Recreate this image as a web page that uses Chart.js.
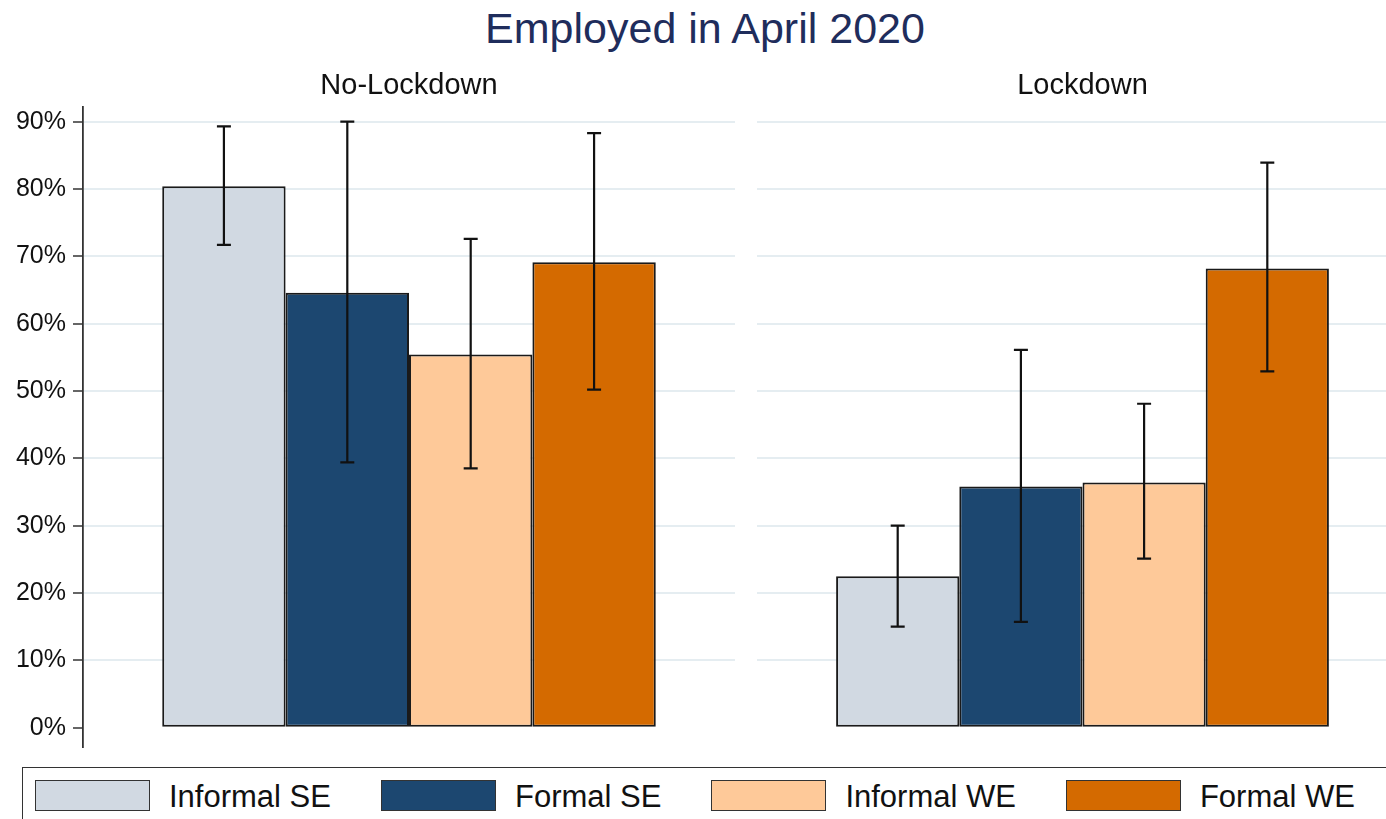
<!DOCTYPE html>
<html>
<head>
<meta charset="utf-8">
<title>Employed in April 2020</title>
<script src="https://cdn.jsdelivr.net/npm/chart.js@4.4.1/dist/chart.umd.min.js"></script>
<style>
  html, body { margin: 0; padding: 0; background: #fff; }
  body { width: 1386px; height: 819px; position: relative; overflow: hidden;
         font-family: 'Liberation Sans', Arial, sans-serif; }
  #title { position: absolute; left: 0; top: 7px; width: 1410px; text-align: center;
           font-size: 43px; line-height: 42px; color: #1f2d5c; }
  #leftPanel { position: absolute; left: 0; top: 50px; }
  #rightPanel { position: absolute; left: 746px; top: 50px; }
  #legend { position: absolute; left: 22px; top: 767px; width: 1400px; height: 70px;
            border: 1.5px solid #333; box-sizing: border-box;
            display: flex; align-items: center; gap: 50px; padding: 0 0 14px 12px; }
  .item { display: flex; align-items: center; gap: 19px; font-size: 31px; color: #111; }
  .item span { position: relative; top: 2px; }
  .swatch { width: 115px; height: 31px; box-sizing: border-box; border: 1.5px solid #333; }
</style>
</head>
<body>
<div id="title">Employed in April 2020</div>
<canvas id="leftPanel" width="746" height="700"></canvas>
<canvas id="rightPanel" width="662" height="700"></canvas>
<div id="legend"></div>

<script>
// Panels and series
const panels = ['No-Lockdown', 'Lockdown'];
const seriesNames = ['Informal SE', 'Formal SE', 'Informal WE', 'Formal WE'];
const seriesColors = ['#d1d9e2', '#1c4770', '#fec999', '#d46a00'];

// Share employed (%) with 95% CI, one entry per series
const noLockdownShare = [80.4, 64.6, 55.4, 69.1];
const noLockdownLow = [71.7, 39.4, 38.5, 50.2];
const noLockdownHigh = [89.3, 90.0, 72.6, 88.3];

const lockdownShare = [22.5, 35.8, 36.4, 68.2];
const lockdownLow = [15.0, 15.7, 25.1, 52.9];
const lockdownHigh = [30.0, 56.1, 48.1, 83.9];

// Y axis tick values
const yTicks = [0, 10, 20, 30, 40, 50, 60, 70, 80, 90];

const FONT = "'Liberation Sans', Arial, sans-serif";

// Draws CI whiskers on top of each bar
const errorBars = {
    id: 'errorBars',
    afterDatasetsDraw(chart) {
        const ctx = chart.ctx;
        const y = chart.scales.y;
        chart.data.datasets.forEach((ds, i) => {
            const bar = chart.getDatasetMeta(i).data[0];
            if (!bar) return;
            const yLo = y.getPixelForValue(ds.ciLow);
            const yHi = y.getPixelForValue(ds.ciHigh);
            const x = bar.x;
            const half = 7;
            ctx.save();
            ctx.strokeStyle = '#111';
            ctx.lineWidth = 2.2;
            ctx.beginPath();
            ctx.moveTo(x, yLo); ctx.lineTo(x, yHi);
            ctx.moveTo(x - half, yLo); ctx.lineTo(x + half, yLo);
            ctx.moveTo(x - half, yHi); ctx.lineTo(x + half, yHi);
            ctx.stroke();
            ctx.restore();
        });
    }
};

function makePanel(canvasId, panelName, share, low, high, showAxis) {
    const datasets = seriesNames.map((name, i) => ({
        label: name,
        data: [share[i]],
        ciLow: low[i],
        ciHigh: high[i],
        backgroundColor: seriesColors[i],
        borderColor: '#1a1a1a',
        borderWidth: 2,
        borderSkipped: false,
        barPercentage: 1.0,
        categoryPercentage: 0.757
    }));

    return new Chart(document.getElementById(canvasId), {
        type: 'bar',
        data: { labels: [panelName], datasets: datasets },
        options: {
            responsive: false,
            animation: false,
            layout: {
                padding: showAxis ? { left: 0, right: 11, top: 0, bottom: 3 }
                                  : { left: 11, right: 0, top: 0, bottom: 3 }
            },
            plugins: {
                legend: { display: false },
                tooltip: { enabled: false },
                title: {
                    display: true,
                    text: panelName,
                    fullSize: false,
                    color: '#111',
                    font: { family: FONT, size: 29, weight: 'normal' },
                    padding: { top: 19, bottom: 3 }
                }
            },
            scales: {
                x: { display: false },
                y: {
                    min: -2.87,
                    max: 92.2,
                    afterBuildTicks: (axis) => {
                        axis.ticks = yTicks.map(v => ({ value: v }));
                    },
                    afterFit: (axis) => {
                        axis.width = showAxis ? 83 : 0;
                        axis.paddingTop = 0;
                        axis.paddingBottom = 0;
                    },
                    border: { display: showAxis, color: '#333', width: 1.8 },
                    grid: {
                        color: (c) => (c.tick && c.tick.value === 0) ? 'rgba(0,0,0,0)' : '#e5edf1',
                        lineWidth: 2,
                        drawTicks: showAxis,
                        tickLength: 10,
                        tickColor: '#333',
                        tickWidth: 1.5
                    },
                    ticks: {
                        display: showAxis,
                        padding: 7,
                        color: '#111',
                        font: { family: FONT, size: 25 },
                        callback: (v) => v + '%'
                    }
                }
            }
        },
        plugins: [errorBars]
    });
}

makePanel('leftPanel', panels[0], noLockdownShare, noLockdownLow, noLockdownHigh, true);
makePanel('rightPanel', panels[1], lockdownShare, lockdownLow, lockdownHigh, false);

// Legend row below both panels
const legendBox = document.getElementById('legend');
seriesNames.forEach((name, i) => {
    const item = document.createElement('div');
    item.className = 'item';
    const sw = document.createElement('div');
    sw.className = 'swatch';
    sw.style.background = seriesColors[i];
    const label = document.createElement('span');
    label.textContent = name;
    item.appendChild(sw);
    item.appendChild(label);
    legendBox.appendChild(item);
});
</script>
</body>
</html>
